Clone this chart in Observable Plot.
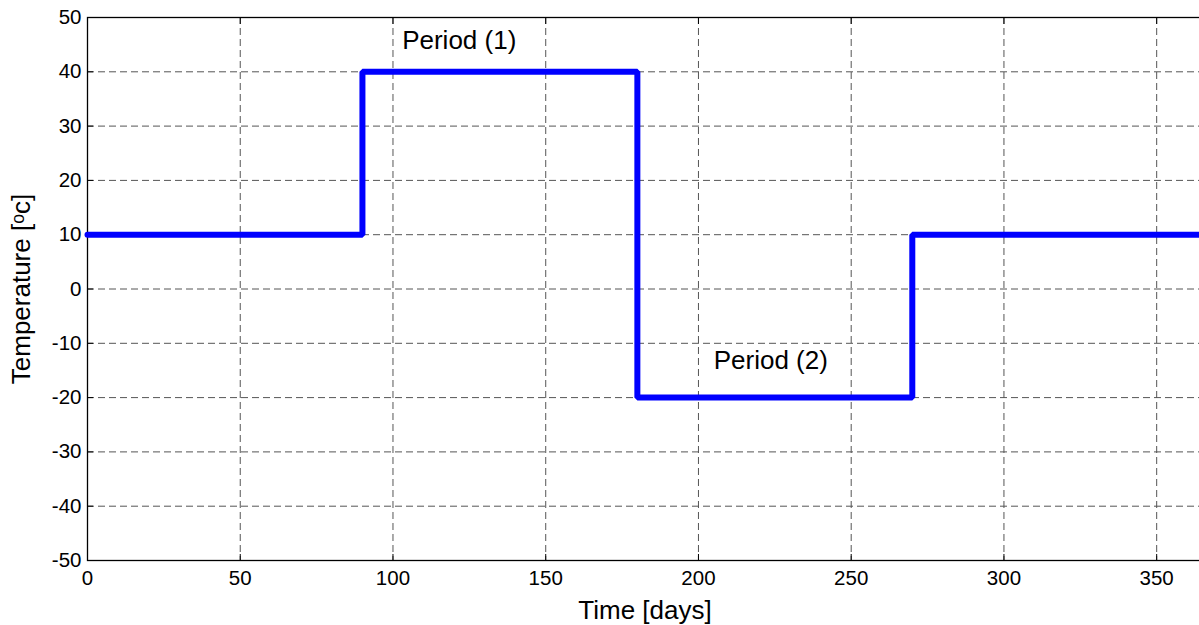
<!DOCTYPE html>
<html>
<head>
<meta charset="utf-8">
<script src="https://cdn.jsdelivr.net/npm/d3@7"></script>
<script src="https://cdn.jsdelivr.net/npm/@observablehq/plot@0.6"></script>
<style>
  html, body { margin: 0; padding: 0; background: #fff; }
  #chart svg { display: block; }
</style>
</head>
<body>
<div id="chart"></div>
<script>
// Step profile: temperature held from each start day until the next
const days = [0, 90, 180, 270, 365];
const temperatures = [10, 40, -20, 10, 10];

const xTicks = [0, 50, 100, 150, 200, 250, 300, 350];
const yTicks = [-50, -40, -30, -20, -10, 0, 10, 20, 30, 40, 50];

const annotationText = ["Period (1)", "Period (2)"];
const annotationDay = [103, 205];
const annotationTemp = [44.2, -14.8];

const xLabel = "Time [days]";
const yLabel = "Temperature [\u1D52c]";

const series = days.map((d, i) => ({day: d, temp: temperatures[i]}));
const notes = annotationText.map((t, i) => ({text: t, day: annotationDay[i], temp: annotationTemp[i]}));

const font = "'Liberation Sans', Arial, sans-serif";

const chart = Plot.plot({
  width: 1199,
  height: 625,
  marginLeft: 87,
  marginRight: -3,
  marginTop: 17,
  marginBottom: 65,
  style: {fontFamily: font, background: "#fff", color: "#000"},
  x: {domain: [0, 365], ticks: xTicks},
  y: {domain: [-50, 50], ticks: yTicks},
  marks: [
    Plot.gridX(xTicks, {stroke: "#555", strokeOpacity: 1, strokeWidth: 1, strokeDasharray: "7,4"}),
    Plot.gridY(yTicks, {stroke: "#555", strokeOpacity: 1, strokeWidth: 1, strokeDasharray: "7,4"}),
    Plot.axisX(xTicks, {anchor: "bottom", tickSize: 0, tickPadding: 10, fontSize: 20.5, label: null, tickFormat: d => String(d)}),
    Plot.axisY(yTicks, {anchor: "left", tickSize: 0, tickPadding: 6, fontSize: 20.5, label: null, tickFormat: d => String(d)}),
    Plot.axisX(xTicks, {anchor: "bottom", tickSize: -6, tickFormat: () => "", label: null, stroke: "#000"}),
    Plot.axisX(xTicks, {anchor: "top", tickSize: -6, tickFormat: () => "", label: null, stroke: "#000"}),
    Plot.axisY(yTicks, {anchor: "left", tickSize: -6, tickFormat: () => "", label: null, stroke: "#000"}),
    Plot.frame({stroke: "#000", strokeWidth: 1.3}),
    Plot.line(series, {x: "day", y: "temp", curve: "step-after", stroke: "#0000ff", strokeWidth: 6, strokeLinejoin: "miter"}),
    Plot.text(notes, {x: "day", y: "temp", text: "text", textAnchor: "start", lineAnchor: "bottom", fontSize: 26, fill: "#000"}),
    Plot.text([xLabel], {frameAnchor: "bottom", dy: 58, fontSize: 26, fill: "#000", lineAnchor: "bottom"}),
    Plot.text([yLabel], {frameAnchor: "left", textAnchor: "middle", dx: -66, rotate: -90, fontSize: 26, fill: "#000"})
  ]
});

document.getElementById("chart").appendChild(chart);
</script>
</body>
</html>
